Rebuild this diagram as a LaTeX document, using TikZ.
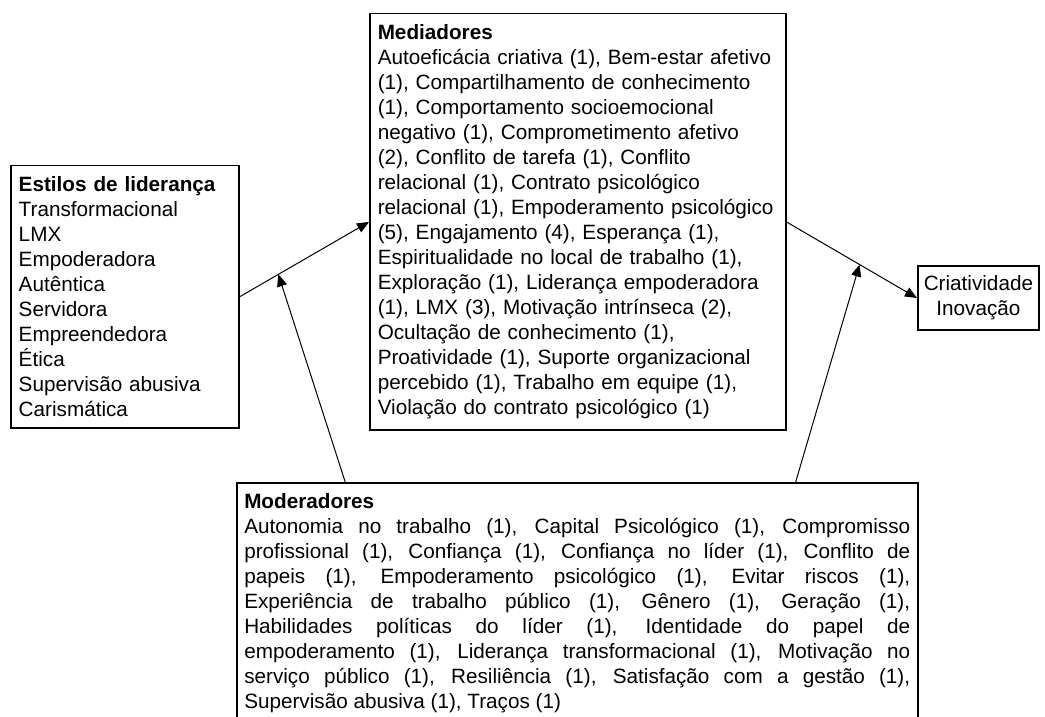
\documentclass[tikz,border=0pt]{standalone}
\usepackage{fontspec}
\setmainfont{Liberation Sans}
\usetikzlibrary{positioning,arrows.meta,calc}
\hyphenpenalty=10000
\exhyphenpenalty=10000

\begin{document}
\begin{tikzpicture}[x=0.5pt,y=-0.5pt,
  font=\fontsize{10.35}{12.5}\selectfont,
  box/.style={draw,line width=0.75pt,inner xsep=4pt,inner ysep=5.5pt,align=left},
  arr/.style={-{Triangle[length=6pt,width=5pt]},line width=0.5pt}]
\useasboundingbox (0,0) rectangle (1045,717);
\node[box,anchor=north west,text width=106pt] (est) at (10,165) {\textbf{Estilos de liderança}\\Transformacional\\LMX\\Empoderadora\\Autêntica\\Servidora\\Empreendedora\\Ética\\Supervisão abusiva\\Carismática};
\node[box,anchor=north west,text width=200pt] (med) at (369,13) {\textbf{Mediadores}\\
  Autoeficácia criativa (1), Bem-estar afetivo\\
  (1), Compartilhamento de conhecimento\\
  (1), Comportamento socioemocional\\
  negativo (1), Comprometimento afetivo\\
  (2), Conflito de tarefa (1), Conflito\\
  relacional (1), Contrato psicológico\\
  relacional (1), Empoderamento psicológico\\
  (5), Engajamento (4), Esperança (1),\\
  Espiritualidade no local de trabalho (1),\\
  Exploração (1), Liderança empoderadora\\
  (1), LMX (3), Motivação intrínseca (2),\\
  Ocultação de conhecimento (1),\\
  Proatividade (1), Suporte organizacional\\
  percebido (1), Trabalho em equipe (1),\\
  Violação do contrato psicológico (1)};
\node[box,anchor=west,align=center,inner xsep=3pt,inner ysep=4.8pt] (cri) at (917,298) {Criatividade\\Inovação};
\node[box,anchor=north west,text width=333pt,inner xsep=3.75pt,align=justify] (mod) at (236,482) {\textbf{Moderadores}\\
  Autonomia no trabalho (1), Capital Psicológico (1), Compromisso\linebreak
  profissional (1), Confiança (1), Confiança no líder (1), Conflito de\linebreak
  papeis (1), Empoderamento psicológico (1), Evitar riscos (1),\linebreak
  Experiência de trabalho público (1), Gênero (1), Geração (1),\linebreak
  Habilidades políticas do líder (1), Identidade do papel de\linebreak
  empoderamento (1), Liderança transformacional (1), Motivação no\linebreak
  serviço público (1), Resiliência (1), Satisfação com a gestão (1),\linebreak
  Supervisão abusiva (1), Traços (1)};
\path (est.east) -- (med.west) coordinate[pos=0.3] (j1);
\path (med.east) -- (cri.west) coordinate[pos=0.56] (j2);
\coordinate (m1) at ($(mod.north west)!0.16!(mod.north east)$);
\coordinate (m2) at ($(mod.north west)!0.82!(mod.north east)$);
\draw[arr] (est.east) -- (med.west);
\draw[arr] (med.east) -- (cri.west);
\draw[arr] (m1) -- (j1);
\draw[arr] (m2) -- (j2);
\end{tikzpicture}
\end{document}
